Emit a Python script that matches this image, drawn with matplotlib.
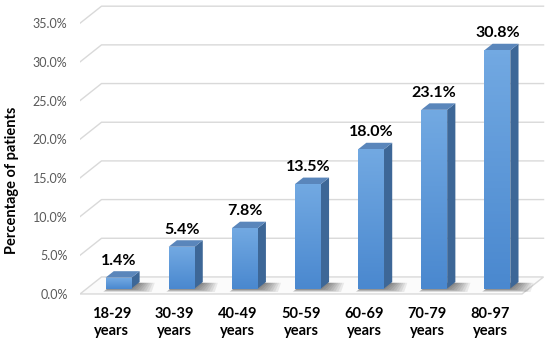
import numpy as np
import matplotlib
matplotlib.use("Agg")
import matplotlib.pyplot as plt
from matplotlib.patches import Polygon, Rectangle
from matplotlib.colors import LinearSegmentedColormap

# data
age_groups = ["18-29\nyears", "30-39\nyears", "40-49\nyears", "50-59\nyears",
              "60-69\nyears", "70-79\nyears", "80-97\nyears"]
percent = [1.4, 5.4, 7.8, 13.5, 18.0, 23.1, 30.8]
y_ticks = [0, 5, 10, 15, 20, 25, 30, 35]

plt.rcParams["font.family"] = ["Lato", "DejaVu Sans"]

# fake 3D geometry, in data units (x: category slots, y: percent)
FLOOR_DX, FLOOR_DY = 0.34, 2.2       # depth of floor / back wall
BAR_OFF = 0.32                        # bars sit this far into the floor
BAR_W = 0.41
BAR_DX, BAR_DY = 0.13, 0.84          # depth of each bar
GRID = "#d9d9d9"

fig = plt.figure(figsize=(5.5, 3.43), dpi=100)
ax = fig.add_axes([0.1455, 0.1204, 0.8455, 0.8796])
n = len(percent)
xmax = 7.364
ax.set_xlim(0, xmax)
ax.set_ylim(-1, 38)
for s in ax.spines.values():
    s.set_visible(False)

# back wall gridlines + left diagonals
for t in y_ticks[1:]:
    ax.plot([0, FLOOR_DX, n + FLOOR_DX], [t, t + FLOOR_DY, t + FLOOR_DY],
            color=GRID, lw=1.0, zorder=1)

# floor
floor = Polygon([(0, 0), (n, 0), (n + FLOOR_DX, FLOOR_DY), (FLOOR_DX, FLOOR_DY)],
                closed=True, facecolor="#fbfbfb", edgecolor=GRID, lw=1.0, zorder=1)
ax.add_patch(floor)

grad = LinearSegmentedColormap.from_list("bar", ["#4a88cf", "#72a9e2"])
base = BAR_OFF * FLOOR_DY
for i, v in enumerate(percent):
    c = i + 0.5 + BAR_OFF * FLOOR_DX
    x0, x1 = c - BAR_W / 2, c + BAR_W / 2
    top = base + v

    # soft shadow on the floor, built up from faint layers
    for k in range(8):
        s = k / 7
        sh = Polygon([(x0 + 0.02 - 0.06 * s, base - 0.1 - 0.35 * s),
                      (x1 + 0.02 + 0.3 * s, base - 0.1 - 0.35 * s),
                      (x1 + BAR_DX + 0.02 + 0.22 * s, base + BAR_DY - 0.1),
                      (x0 + BAR_DX, base + BAR_DY - 0.1)],
                     closed=True, facecolor="black", edgecolor="none",
                     alpha=0.07, zorder=2)
        ax.add_patch(sh)

    # side face
    side = Polygon([(x1, base), (x1 + BAR_DX, base + BAR_DY),
                    (x1 + BAR_DX, top + BAR_DY), (x1, top)],
                   closed=True, facecolor="#3d6797", edgecolor="none", zorder=3)
    ax.add_patch(side)
    # top face
    lid = Polygon([(x0, top), (x1, top), (x1 + BAR_DX, top + BAR_DY),
                   (x0 + BAR_DX, top + BAR_DY)],
                  closed=True, facecolor="#5a86bb", edgecolor="none", zorder=3)
    ax.add_patch(lid)
    # front face with gradient
    front = Rectangle((x0, base), BAR_W, v, facecolor="none", edgecolor="none", zorder=4)
    ax.add_patch(front)
    g = np.linspace(0, 1, 64).reshape(-1, 1)
    im = ax.imshow(g, extent=(x0, x1, base, top), origin="lower", cmap=grad,
                   aspect="auto", zorder=4)
    im.set_clip_path(front)

    ax.annotate(f"{v:.1f}%", (c, top + BAR_DY), xytext=(0, 2.5),
                textcoords="offset points", ha="center", va="bottom",
                fontsize=11.5, fontweight="bold", color="black", zorder=5)

ax.set_xlim(0, xmax)
ax.set_ylim(-1, 38)

ax.set_yticks(y_ticks)
ax.set_yticklabels([f"{t:.1f}%" for t in y_ticks], color="#595959", fontsize=9)
ax.set_xticks([i + 0.5 for i in range(n)])
ax.set_xticklabels(age_groups, fontsize=10.5, fontweight="bold", linespacing=1.35)
ax.tick_params(axis="y", length=0, pad=9)
ax.tick_params(axis="x", length=0, pad=3.5)

fig.text(12 / 550, 1 - 180 / 343, "Percentage of patients", rotation=90,
         ha="center", va="center", fontsize=10.5, fontweight="bold")

fig.savefig("out.png", dpi=100)
